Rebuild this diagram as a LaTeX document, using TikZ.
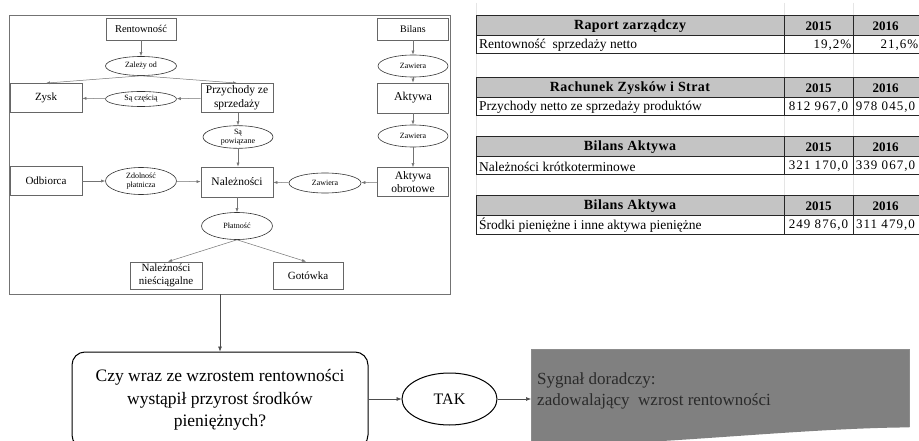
\documentclass[tikz,border=0pt]{standalone}
\usepackage{fontspec}
\setmainfont{Liberation Serif}
\newfontfamily\tabfont[LetterSpace=3]{Liberation Serif}
\newfontfamily\numfont[LetterSpace=8]{Liberation Serif}
\usetikzlibrary{shapes.geometric,arrows.meta}
\definecolor{hdrgray}{HTML}{C4C4C4}
\definecolor{docgray}{HTML}{808080}
\definecolor{doctext}{HTML}{2A2A2A}
\tikzset{
  box/.style={draw=black!60, line width=0.8pt, minimum width=72pt, minimum height=29pt, inner sep=1pt, align=center, font=\fontsize{11}{13}\selectfont},
  ell/.style={ellipse, draw=black!80, line width=0.6pt, inner sep=0pt, minimum width=71pt, minimum height=20pt, align=center, font=\fontsize{8}{9}\selectfont},
  arr/.style={draw=black!55, line width=0.5pt, -{Latex[length=4pt,width=3pt]}},
  bigarr/.style={draw=black!70, line width=0.6pt, -{Latex[length=5pt,width=4pt]}},
  tblline/.style={draw=black!85, line width=1pt},
  gridfaint/.style={draw=black!10, line width=0.6pt},
  hdrtxt/.style={font=\tabfont\bfseries\fontsize{14}{16}\selectfont, inner sep=0pt},
  yeartxt/.style={font=\bfseries\fontsize{13}{15}\selectfont, inner sep=0pt},
  rowtxt/.style={font=\fontsize{13.5}{15}\selectfont, inner sep=0pt},
  numtxt/.style={font=\numfont\fontsize{13}{15}\selectfont, inner sep=0pt},
  valr/.style={anchor=east, xshift=33pt},
  valc/.style={}
}
\newcommand\mktab[7]{%
  \fill[hdrgray] (476,#1) rectangle (922,#1+20);
  \draw[tblline] (476,#1) rectangle (922,#1+38);
  \draw[tblline] (476,#1+20) -- (922,#1+20);
  \draw[tblline] (784,#1) -- (784,#1+38) (853,#1) -- (853,#1+38);
  \node[hdrtxt] (#2h) at (630,#1+10.5) {#3};
  \node[yeartxt] (#2ya) at (818.5,#1+10.5) {2015};
  \node[yeartxt] (#2yb) at (885.5,#1+10.5) {2016};
  \node[rowtxt, anchor=west] (#2r) at (479,#1+29.5) {#4};
  \node[numtxt, #7] (#2a) at (818.5,#1+29.5) {#5};
  \node[numtxt, #7] (#2b) at (885.5,#1+29.5) {#6};
}
\begin{document}
\begin{tikzpicture}[x=1pt,y=-1pt]
\useasboundingbox (0,0) rectangle (919,441);
\clip (0,0) rectangle (919,441);
\fill[white] (0,0) rectangle (919,441);

% ---------------- diagram frame
\node[draw=black!55, line width=0.8pt, minimum width=441pt, minimum height=279pt, inner sep=0pt] (frame) at (229.5,154.5) {};

\node[box, minimum width=70pt, minimum height=22pt, font=\fontsize{10.5}{12}\selectfont] (rent) at (141,29) {Rentowność};
\node[ell, minimum height=19pt] (zal) at (141,66) {Zależy od};
\node[box] (zysk) at (46,98) {Zysk};
\node[ell, minimum height=15pt] (czesc) at (141,99) {Są częścią};
\node[box, font=\fontsize{11.5}{13.5}\selectfont] (przy) at (237,98) {Przychody ze\\sprzedaży};
\node[ell, minimum width=70pt, minimum height=22pt] (pow) at (238,137) {Są\\powiązane};
\node[box, minimum width=71pt, minimum height=22pt, font=\fontsize{10}{12}\selectfont] (bil) at (413,29) {Bilans};
\node[ell, minimum width=70pt, minimum height=22pt] (zaw1) at (413,66) {Zawiera};
\node[box, minimum width=71pt, minimum height=30pt, font=\fontsize{12}{14}\selectfont] (akt) at (413,98) {Aktywa};
\node[ell, minimum width=70pt, minimum height=22pt] (zaw2) at (413,136) {Zawiera};
\node[box] (odb) at (46,181) {Odbiorca};
\node[ell, minimum height=27pt] (zdol) at (141,181) {Zdolność\\płatnicza};
\node[box, minimum height=30pt, font=\fontsize{11.5}{13}\selectfont] (nal) at (237,182) {Należności};
\node[ell, minimum width=72pt, minimum height=20pt] (zaw3) at (325,183) {Zawiera};
\node[box, minimum width=71pt, font=\fontsize{11.5}{12.5}\selectfont] (aob) at (413,182) {Aktywa\\obrotowe};
\node[ell, minimum height=27pt] (plat) at (237,226) {Płatność};
\node[box, minimum height=27pt, font=\fontsize{11}{12.5}\selectfont] (nn) at (166,275.5) {Należności\\nieściągalne};
\node[box, minimum width=70pt, minimum height=27pt] (got) at (308,275.5) {Gotówka};

\draw[arr] (rent) -- (zal);
\draw[arr] (zal.south) -- (zysk.north);
\draw[arr] (zal.south) -- (przy.north);
\draw[arr] (przy) -- (czesc);
\draw[arr] (czesc) -- (zysk);
\draw[arr] (przy.south -| pow.north) -- (pow.north);
\draw[arr] (pow.south) -- (nal.north -| pow.south);
\draw[arr] (bil) -- (zaw1);
\draw[arr] (zaw1) -- (akt);
\draw[arr] (akt) -- (zaw2);
\draw[arr] (zaw2) -- (aob);
\draw[arr] (aob) -- (zaw3);
\draw[arr] (zaw3) -- (nal);
\draw[arr] (odb) -- (zdol);
\draw[arr] (zdol) -- (nal);
\draw[arr] (nal) -- (plat);
\draw[arr] (plat.south) -- ([xshift=2pt]nn.north);
\draw[arr] (plat.south) -- ([xshift=-2pt]got.north);

% ---------------- tables
\draw[gridfaint] (476,3) -- (476,234) (784,3) -- (784,234) (853,3) -- (853,234);
\mktab{16}{ta}{Raport zarządczy}{Rentowność\ \ sprzedaży netto}{19,2\%}{21,6\%}{valr}
\mktab{78}{tb}{Rachunek Zysków i Strat}{Przychody netto ze sprzedaży produktów}{812 967,0}{978 045,0}{valc}
\mktab{137}{tc}{Bilans Aktywa}{Należności krótkoterminowe}{321 170,0}{339 067,0}{valc}
\mktab{196}{td}{Bilans Aktywa}{Środki pieniężne i inne aktywa pieniężne}{249 876,0}{311 479,0}{valc}

% ---------------- bottom flow
\node[draw=black, line width=1pt, rounded corners=13pt, minimum width=296pt, minimum height=96pt, align=center, font=\fontsize{17.5}{22.5}\selectfont] (q) at (220,400) {Czy wraz ze wzrostem rentowności\\wystąpił przyrost środków\\pieniężnych?};
\node[ellipse, draw=black, line width=1pt, minimum width=95pt, minimum height=52pt, inner sep=0pt, font=\fontsize{16}{18}\selectfont] (tak) at (449.5,399) {TAK};
\node[minimum width=378pt, minimum height=78pt, inner sep=0pt, anchor=north west] (sig) at (531,349) {};
\fill[docgray] (sig.north west) -- (sig.north east) -- (sig.south east)
   .. controls (800,428) and (650,446) .. (531,446) -- cycle;
\draw[black!45, line width=0.5pt] (sig.south east) -- (sig.north east) -- (sig.north west) -- (531,446);
\node[anchor=north west, align=left, inner sep=0pt, text=doctext, font=\fontsize{17}{21}\selectfont] (sigtxt) at (537,373) {Sygnał doradczy:\\zadowalający\ \ wzrost rentowności};

\draw[bigarr] (frame.south -| q.north) -- (q.north);
\draw[bigarr] (q.east |- tak.west) -- (tak.west);
\draw[bigarr] (tak.east) -- (sig.west |- tak.east);
\end{tikzpicture}
\end{document}
